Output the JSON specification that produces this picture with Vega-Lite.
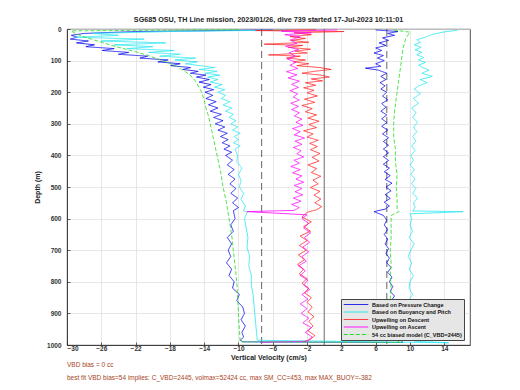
{
  "$schema": "https://vega.github.io/schema/vega-lite/v6.json",
  "autosize": "none",
  "width": 403,
  "height": 316,
  "padding": {"left": 67, "top": 29, "right": 50, "bottom": 45},
  "background": "white",
  "title": {
    "text": "SG685 OSU, TH Line mission, 2023/01/26, dive 739 started 17-Jul-2023 10:11:01",
    "font": "Liberation Sans", "fontSize": 7.2, "fontWeight": "bold", "color": "#222", "offset": 3, "anchor": "middle"
  },
  "config": {
    "view": {"stroke": "#222", "strokeWidth": 0.8},
    "axis": {
      "labelFont": "Liberation Sans", "labelFontWeight": "bold", "labelFontSize": 6.5, "labelColor": "#333",
      "titleFont": "Liberation Sans", "titleFontWeight": "bold", "titleFontSize": 7, "titleColor": "#222",
      "gridColor": "#dddddd", "gridWidth": 0.7, "domainColor": "#222", "domainWidth": 0.8,
      "tickColor": "#222", "tickSize": -3, "tickWidth": 0.7
    }
  },
  "datasets": {
    "vel": [
      {"s":"P","d":3,"w":-6},{"s":"P","d":8,"w":-22},{"s":"P","d":14,"w":-28},{"s":"P","d":20,"w":-29.5},{"s":"P","d":26,"w":-28.8},{"s":"P","d":32,"w":-29.6},{"s":"P","d":38,"w":-27.5},{"s":"P","d":44,"w":-28.9},{"s":"P","d":50,"w":-26.8},{"s":"P","d":56,"w":-27.8},{"s":"P","d":62,"w":-24.5},{"s":"P","d":68,"w":-25.9},{"s":"P","d":74,"w":-22.8},{"s":"P","d":80,"w":-24.0},{"s":"P","d":86,"w":-20.6},{"s":"P","d":92,"w":-21.5},{"s":"P","d":98,"w":-18.2},{"s":"P","d":104,"w":-19.4},{"s":"P","d":110,"w":-16.8},{"s":"P","d":116,"w":-17.9},{"s":"P","d":122,"w":-15.6},{"s":"P","d":128,"w":-16.5},{"s":"P","d":134,"w":-14.7},{"s":"P","d":140,"w":-15.6},{"s":"P","d":146,"w":-13.8},{"s":"P","d":152,"w":-14.9},{"s":"P","d":160,"w":-13.4},{"s":"P","d":168,"w":-14.6},{"s":"P","d":176,"w":-13.2},{"s":"P","d":184,"w":-14.1},{"s":"P","d":192,"w":-12.9},{"s":"P","d":200,"w":-13.9},{"s":"P","d":210,"w":-13.0},{"s":"P","d":220,"w":-13.8},{"s":"P","d":230,"w":-12.6},{"s":"P","d":240,"w":-13.5},{"s":"P","d":250,"w":-12.4},{"s":"P","d":260,"w":-13.3},{"s":"P","d":270,"w":-12.0},{"s":"P","d":280,"w":-12.9},{"s":"P","d":290,"w":-11.8},{"s":"P","d":300,"w":-12.7},{"s":"P","d":310,"w":-11.6},{"s":"P","d":320,"w":-12.4},{"s":"P","d":330,"w":-11.3},{"s":"P","d":340,"w":-12.1},{"s":"P","d":350,"w":-11.2},{"s":"P","d":360,"w":-11.9},{"s":"P","d":370,"w":-11.0},{"s":"P","d":380,"w":-11.7},{"s":"P","d":390,"w":-10.8},{"s":"P","d":400,"w":-11.5},{"s":"P","d":415,"w":-10.7},{"s":"P","d":430,"w":-11.3},{"s":"P","d":445,"w":-10.5},{"s":"P","d":460,"w":-11.2},{"s":"P","d":475,"w":-10.4},{"s":"P","d":490,"w":-11.0},{"s":"P","d":505,"w":-10.3},{"s":"P","d":520,"w":-10.9},{"s":"P","d":535,"w":-10.1},{"s":"P","d":550,"w":-10.7},{"s":"P","d":565,"w":-10.0},{"s":"P","d":575,"w":-10.6},{"s":"P","d":600,"w":-10.4},{"s":"P","d":620,"w":-10.9},{"s":"P","d":640,"w":-10.6},{"s":"P","d":660,"w":-11.3},{"s":"P","d":680,"w":-10.8},{"s":"P","d":700,"w":-11.2},{"s":"P","d":720,"w":-10.9},{"s":"P","d":740,"w":-11.4},{"s":"P","d":760,"w":-10.8},{"s":"P","d":780,"w":-11.1},{"s":"P","d":800,"w":-10.5},{"s":"P","d":820,"w":-10.7},{"s":"P","d":840,"w":-9.9},{"s":"P","d":860,"w":-10.2},{"s":"P","d":880,"w":-9.5},{"s":"P","d":900,"w":-9.3},{"s":"P","d":920,"w":-9.7},{"s":"P","d":940,"w":-9.2},{"s":"P","d":960,"w":-9.6},{"s":"P","d":975,"w":-9.4},{"s":"P","d":985,"w":-9.8},{"s":"P","d":990,"w":-9.5},
      {"s":"P","d":992,"w":9.2},{"s":"P","d":980,"w":8.7},{"s":"P","d":965,"w":8.9},{"s":"P","d":950,"w":8.4},{"s":"P","d":935,"w":8.6},{"s":"P","d":920,"w":8.2},{"s":"P","d":905,"w":8.5},{"s":"P","d":890,"w":8.0},{"s":"P","d":875,"w":8.3},{"s":"P","d":860,"w":7.8},{"s":"P","d":845,"w":8.2},{"s":"P","d":830,"w":7.7},{"s":"P","d":815,"w":8.0},{"s":"P","d":800,"w":7.6},{"s":"P","d":785,"w":7.9},{"s":"P","d":770,"w":7.4},{"s":"P","d":755,"w":7.8},{"s":"P","d":740,"w":7.3},{"s":"P","d":725,"w":7.6},{"s":"P","d":710,"w":7.2},{"s":"P","d":695,"w":7.5},{"s":"P","d":680,"w":7.1},{"s":"P","d":665,"w":7.4},{"s":"P","d":650,"w":7.0},{"s":"P","d":635,"w":7.4},{"s":"P","d":620,"w":7.0},{"s":"P","d":605,"w":7.3},{"s":"P","d":590,"w":6.9},{"s":"P","d":578,"w":5.8},{"s":"P","d":570,"w":7.1},{"s":"P","d":560,"w":7.6},{"s":"P","d":548,"w":7.0},{"s":"P","d":536,"w":7.7},{"s":"P","d":524,"w":7.1},{"s":"P","d":512,"w":7.8},{"s":"P","d":500,"w":7.2},{"s":"P","d":488,"w":7.9},{"s":"P","d":476,"w":7.1},{"s":"P","d":464,"w":7.7},{"s":"P","d":452,"w":7.0},{"s":"P","d":440,"w":7.6},{"s":"P","d":428,"w":6.9},{"s":"P","d":416,"w":7.5},{"s":"P","d":404,"w":6.9},{"s":"P","d":392,"w":7.5},{"s":"P","d":380,"w":6.9},{"s":"P","d":368,"w":7.5},{"s":"P","d":356,"w":6.9},{"s":"P","d":344,"w":7.5},{"s":"P","d":332,"w":6.8},{"s":"P","d":320,"w":7.4},{"s":"P","d":308,"w":6.7},{"s":"P","d":296,"w":7.3},{"s":"P","d":284,"w":6.7},{"s":"P","d":272,"w":7.3},{"s":"P","d":260,"w":6.6},{"s":"P","d":248,"w":7.2},{"s":"P","d":236,"w":6.7},{"s":"P","d":224,"w":7.4},{"s":"P","d":212,"w":6.8},{"s":"P","d":200,"w":7.3},{"s":"P","d":190,"w":6.6},{"s":"P","d":180,"w":7.1},{"s":"P","d":170,"w":6.5},{"s":"P","d":160,"w":7.2},{"s":"P","d":150,"w":6.6},{"s":"P","d":140,"w":7.3},{"s":"P","d":130,"w":6.3},{"s":"P","d":124,"w":4.8},{"s":"P","d":118,"w":6.6},{"s":"P","d":110,"w":6.0},{"s":"P","d":100,"w":7.0},{"s":"P","d":92,"w":6.2},{"s":"P","d":84,"w":6.9},{"s":"P","d":76,"w":5.8},{"s":"P","d":68,"w":6.7},{"s":"P","d":60,"w":6.0},{"s":"P","d":52,"w":7.2},{"s":"P","d":44,"w":6.4},{"s":"P","d":36,"w":7.5},{"s":"P","d":28,"w":6.8},{"s":"P","d":20,"w":8.2},{"s":"P","d":14,"w":7.4},{"s":"P","d":8,"w":8.6},{"s":"P","d":3,"w":6.0},

      {"s":"B","d":3,"w":-4},{"s":"B","d":8,"w":-18},{"s":"B","d":14,"w":-27},{"s":"B","d":20,"w":-24},{"s":"B","d":26,"w":-29},{"s":"B","d":32,"w":-21},{"s":"B","d":38,"w":-26},{"s":"B","d":44,"w":-18.5},{"s":"B","d":50,"w":-24.5},{"s":"B","d":56,"w":-20},{"s":"B","d":62,"w":-23},{"s":"B","d":68,"w":-17.5},{"s":"B","d":74,"w":-20.5},{"s":"B","d":80,"w":-16.8},{"s":"B","d":86,"w":-19.2},{"s":"B","d":92,"w":-15.0},{"s":"B","d":98,"w":-17.4},{"s":"B","d":104,"w":-14.8},{"s":"B","d":110,"w":-16.2},{"s":"B","d":116,"w":-14.5},{"s":"B","d":122,"w":-12.8},{"s":"B","d":128,"w":-14.6},{"s":"B","d":134,"w":-12.5},{"s":"B","d":140,"w":-13.9},{"s":"B","d":146,"w":-12.2},{"s":"B","d":152,"w":-13.6},{"s":"B","d":160,"w":-12.4},{"s":"B","d":168,"w":-13.3},{"s":"B","d":176,"w":-11.9},{"s":"B","d":184,"w":-12.8},{"s":"B","d":192,"w":-11.6},{"s":"B","d":200,"w":-12.4},{"s":"B","d":210,"w":-11.5},{"s":"B","d":220,"w":-12.0},{"s":"B","d":230,"w":-11.0},{"s":"B","d":240,"w":-11.8},{"s":"B","d":250,"w":-10.8},{"s":"B","d":260,"w":-11.5},{"s":"B","d":270,"w":-10.6},{"s":"B","d":280,"w":-11.1},{"s":"B","d":290,"w":-10.3},{"s":"B","d":300,"w":-10.9},{"s":"B","d":310,"w":-10.1},{"s":"B","d":320,"w":-10.7},{"s":"B","d":330,"w":-9.8},{"s":"B","d":340,"w":-10.5},{"s":"B","d":350,"w":-10.0},{"s":"B","d":360,"w":-10.6},{"s":"B","d":370,"w":-9.8},{"s":"B","d":380,"w":-10.4},{"s":"B","d":400,"w":-10.1},{"s":"B","d":420,"w":-10.2},{"s":"B","d":440,"w":-9.6},{"s":"B","d":460,"w":-10.0},{"s":"B","d":480,"w":-9.7},{"s":"B","d":500,"w":-9.9},{"s":"B","d":520,"w":-9.4},{"s":"B","d":540,"w":-9.7},{"s":"B","d":560,"w":-9.2},{"s":"B","d":575,"w":-9.4},{"s":"B","d":580,"w":-9.0},{"s":"B","d":600,"w":-9.3},{"s":"B","d":630,"w":-9.1},{"s":"B","d":660,"w":-8.9},{"s":"B","d":690,"w":-9.0},{"s":"B","d":720,"w":-8.7},{"s":"B","d":750,"w":-8.8},{"s":"B","d":780,"w":-8.5},{"s":"B","d":810,"w":-8.5},{"s":"B","d":840,"w":-8.3},{"s":"B","d":870,"w":-8.2},{"s":"B","d":900,"w":-8.1},{"s":"B","d":930,"w":-8.0},{"s":"B","d":960,"w":-7.9},{"s":"B","d":985,"w":-7.8},
      {"s":"B","d":993,"w":14.5},{"s":"B","d":988,"w":10.5},{"s":"B","d":975,"w":10.1},{"s":"B","d":960,"w":9.9},{"s":"B","d":945,"w":10.2},{"s":"B","d":930,"w":9.8},{"s":"B","d":915,"w":10.1},{"s":"B","d":900,"w":9.9},{"s":"B","d":880,"w":10.2},{"s":"B","d":860,"w":9.8},{"s":"B","d":840,"w":10.3},{"s":"B","d":820,"w":9.9},{"s":"B","d":800,"w":10.0},{"s":"B","d":780,"w":10.4},{"s":"B","d":760,"w":9.9},{"s":"B","d":740,"w":10.2},{"s":"B","d":720,"w":9.8},{"s":"B","d":700,"w":10.1},{"s":"B","d":680,"w":10.5},{"s":"B","d":660,"w":9.9},{"s":"B","d":640,"w":10.3},{"s":"B","d":620,"w":10.0},{"s":"B","d":600,"w":10.2},{"s":"B","d":585,"w":10.0},{"s":"B","d":578,"w":16.2},{"s":"B","d":576,"w":10.3},{"s":"B","d":565,"w":10.6},{"s":"B","d":550,"w":10.4},{"s":"B","d":535,"w":10.9},{"s":"B","d":520,"w":10.3},{"s":"B","d":505,"w":10.7},{"s":"B","d":490,"w":10.2},{"s":"B","d":475,"w":10.6},{"s":"B","d":460,"w":10.1},{"s":"B","d":445,"w":10.5},{"s":"B","d":430,"w":10.0},{"s":"B","d":415,"w":10.4},{"s":"B","d":400,"w":10.1},{"s":"B","d":385,"w":10.6},{"s":"B","d":370,"w":10.2},{"s":"B","d":355,"w":10.7},{"s":"B","d":340,"w":10.3},{"s":"B","d":325,"w":10.8},{"s":"B","d":310,"w":10.4},{"s":"B","d":295,"w":10.9},{"s":"B","d":280,"w":10.3},{"s":"B","d":265,"w":10.7},{"s":"B","d":250,"w":10.2},{"s":"B","d":235,"w":11.0},{"s":"B","d":220,"w":10.4},{"s":"B","d":205,"w":11.2},{"s":"B","d":190,"w":10.5},{"s":"B","d":180,"w":11.0},{"s":"B","d":170,"w":12.0},{"s":"B","d":160,"w":11.2},{"s":"B","d":150,"w":12.6},{"s":"B","d":140,"w":11.4},{"s":"B","d":130,"w":12.2},{"s":"B","d":122,"w":11.5},{"s":"B","d":114,"w":11.0},{"s":"B","d":106,"w":11.8},{"s":"B","d":98,"w":11.0},{"s":"B","d":90,"w":11.6},{"s":"B","d":82,"w":10.8},{"s":"B","d":74,"w":11.4},{"s":"B","d":66,"w":10.6},{"s":"B","d":58,"w":11.3},{"s":"B","d":50,"w":10.5},{"s":"B","d":42,"w":11.2},{"s":"B","d":34,"w":10.8},{"s":"B","d":26,"w":11.8},{"s":"B","d":18,"w":12.5},{"s":"B","d":10,"w":13.8},{"s":"B","d":4,"w":15.5},

      {"s":"D","d":2,"w":-1.0},{"s":"D","d":5,"w":-8.0},{"s":"D","d":8,"w":2.3},{"s":"D","d":12,"w":-3.5},{"s":"D","d":18,"w":-1.5},{"s":"D","d":24,"w":-4.0},{"s":"D","d":30,"w":-2.2},{"s":"D","d":36,"w":-3.8},{"s":"D","d":42,"w":-1.8},{"s":"D","d":48,"w":-7.0},{"s":"D","d":52,"w":-2.5},{"s":"D","d":58,"w":-4.2},{"s":"D","d":64,"w":-1.6},{"s":"D","d":70,"w":-3.4},{"s":"D","d":76,"w":-2.0},{"s":"D","d":82,"w":-6.5},{"s":"D","d":86,"w":-2.8},{"s":"D","d":92,"w":-4.4},{"s":"D","d":98,"w":-2.2},{"s":"D","d":104,"w":-3.6},{"s":"D","d":110,"w":-1.8},{"s":"D","d":116,"w":-3.2},{"s":"D","d":122,"w":-0.5},{"s":"D","d":128,"w":0.8},{"s":"D","d":134,"w":-1.2},{"s":"D","d":140,"w":-2.6},{"s":"D","d":146,"w":-0.4},{"s":"D","d":152,"w":0.6},{"s":"D","d":158,"w":-1.5},{"s":"D","d":164,"w":-0.2},{"s":"D","d":170,"w":-2.2},{"s":"D","d":178,"w":-1.0},{"s":"D","d":186,"w":-2.4},{"s":"D","d":194,"w":-1.2},{"s":"D","d":202,"w":-2.0},{"s":"D","d":212,"w":-0.8},{"s":"D","d":222,"w":-2.3},{"s":"D","d":232,"w":-1.1},{"s":"D","d":242,"w":-2.6},{"s":"D","d":252,"w":-1.4},{"s":"D","d":262,"w":-2.2},{"s":"D","d":272,"w":-0.9},{"s":"D","d":282,"w":-1.9},{"s":"D","d":292,"w":-0.6},{"s":"D","d":302,"w":-1.8},{"s":"D","d":312,"w":-0.9},{"s":"D","d":322,"w":-2.4},{"s":"D","d":332,"w":-1.3},{"s":"D","d":342,"w":-2.0},{"s":"D","d":352,"w":-0.7},{"s":"D","d":362,"w":-1.7},{"s":"D","d":372,"w":-0.8},{"s":"D","d":382,"w":-1.6},{"s":"D","d":394,"w":-0.5},{"s":"D","d":406,"w":-1.4},{"s":"D","d":418,"w":-0.6},{"s":"D","d":430,"w":-1.9},{"s":"D","d":442,"w":-0.9},{"s":"D","d":454,"w":-1.5},{"s":"D","d":466,"w":-0.4},{"s":"D","d":478,"w":-1.3},{"s":"D","d":490,"w":-0.7},{"s":"D","d":502,"w":-1.6},{"s":"D","d":514,"w":-0.5},{"s":"D","d":526,"w":-1.2},{"s":"D","d":538,"w":-0.4},{"s":"D","d":550,"w":-1.1},{"s":"D","d":562,"w":-0.3},{"s":"D","d":572,"w":-0.9},{"s":"D","d":580,"w":-2.0},{"s":"D","d":595,"w":-2.6},{"s":"D","d":610,"w":-1.5},{"s":"D","d":625,"w":-2.4},{"s":"D","d":640,"w":-1.6},{"s":"D","d":655,"w":-2.8},{"s":"D","d":670,"w":-2.0},{"s":"D","d":685,"w":-2.9},{"s":"D","d":700,"w":-2.1},{"s":"D","d":715,"w":-3.0},{"s":"D","d":730,"w":-2.3},{"s":"D","d":745,"w":-3.1},{"s":"D","d":760,"w":-2.4},{"s":"D","d":775,"w":-2.9},{"s":"D","d":790,"w":-2.0},{"s":"D","d":805,"w":-2.6},{"s":"D","d":820,"w":-1.8},{"s":"D","d":835,"w":-2.3},{"s":"D","d":850,"w":-1.5},{"s":"D","d":865,"w":-2.0},{"s":"D","d":880,"w":-1.4},{"s":"D","d":895,"w":-1.9},{"s":"D","d":910,"w":-1.2},{"s":"D","d":925,"w":-1.8},{"s":"D","d":940,"w":-1.3},{"s":"D","d":955,"w":-1.9},{"s":"D","d":970,"w":-1.1},{"s":"D","d":982,"w":-1.6},{"s":"D","d":990,"w":-2.4},

      {"s":"A","d":992,"w":-7.5},{"s":"A","d":988,"w":-2.0},{"s":"A","d":975,"w":-1.4},{"s":"A","d":960,"w":-2.2},{"s":"A","d":945,"w":-1.5},{"s":"A","d":930,"w":-2.5},{"s":"A","d":915,"w":-1.8},{"s":"A","d":900,"w":-2.7},{"s":"A","d":885,"w":-2.0},{"s":"A","d":870,"w":-2.8},{"s":"A","d":855,"w":-1.9},{"s":"A","d":840,"w":-2.6},{"s":"A","d":825,"w":-1.7},{"s":"A","d":810,"w":-2.4},{"s":"A","d":795,"w":-1.9},{"s":"A","d":780,"w":-2.8},{"s":"A","d":765,"w":-2.2},{"s":"A","d":750,"w":-3.0},{"s":"A","d":735,"w":-2.1},{"s":"A","d":720,"w":-2.6},{"s":"A","d":705,"w":-1.8},{"s":"A","d":690,"w":-2.5},{"s":"A","d":675,"w":-1.7},{"s":"A","d":660,"w":-2.3},{"s":"A","d":645,"w":-1.6},{"s":"A","d":630,"w":-2.4},{"s":"A","d":615,"w":-1.8},{"s":"A","d":600,"w":-2.6},{"s":"A","d":588,"w":-2.0},{"s":"A","d":578,"w":-9.0},{"s":"A","d":574,"w":-3.5},{"s":"A","d":565,"w":-2.9},{"s":"A","d":555,"w":-3.8},{"s":"A","d":545,"w":-2.7},{"s":"A","d":535,"w":-3.6},{"s":"A","d":525,"w":-2.5},{"s":"A","d":515,"w":-3.4},{"s":"A","d":505,"w":-2.6},{"s":"A","d":495,"w":-3.5},{"s":"A","d":485,"w":-2.4},{"s":"A","d":475,"w":-3.3},{"s":"A","d":465,"w":-2.6},{"s":"A","d":455,"w":-3.7},{"s":"A","d":445,"w":-2.8},{"s":"A","d":435,"w":-3.9},{"s":"A","d":425,"w":-2.9},{"s":"A","d":415,"w":-3.5},{"s":"A","d":405,"w":-2.4},{"s":"A","d":395,"w":-3.2},{"s":"A","d":385,"w":-2.7},{"s":"A","d":375,"w":-3.6},{"s":"A","d":365,"w":-2.6},{"s":"A","d":355,"w":-3.4},{"s":"A","d":345,"w":-2.3},{"s":"A","d":335,"w":-3.5},{"s":"A","d":325,"w":-2.8},{"s":"A","d":315,"w":-3.7},{"s":"A","d":305,"w":-2.5},{"s":"A","d":295,"w":-3.3},{"s":"A","d":285,"w":-2.6},{"s":"A","d":275,"w":-3.5},{"s":"A","d":265,"w":-2.9},{"s":"A","d":255,"w":-3.8},{"s":"A","d":245,"w":-3.0},{"s":"A","d":235,"w":-3.9},{"s":"A","d":225,"w":-2.9},{"s":"A","d":215,"w":-3.6},{"s":"A","d":205,"w":-3.1},{"s":"A","d":195,"w":-4.0},{"s":"A","d":185,"w":-3.0},{"s":"A","d":175,"w":-3.8},{"s":"A","d":165,"w":-2.9},{"s":"A","d":155,"w":-4.2},{"s":"A","d":145,"w":-3.2},{"s":"A","d":135,"w":-4.4},{"s":"A","d":125,"w":-3.1},{"s":"A","d":115,"w":-4.0},{"s":"A","d":105,"w":-3.3},{"s":"A","d":95,"w":-4.3},{"s":"A","d":85,"w":-3.4},{"s":"A","d":75,"w":-4.1},{"s":"A","d":65,"w":-3.0},{"s":"A","d":55,"w":-4.5},{"s":"A","d":45,"w":-3.2},{"s":"A","d":35,"w":-4.0},{"s":"A","d":25,"w":-2.8},{"s":"A","d":18,"w":-4.6},{"s":"A","d":12,"w":-1.5},{"s":"A","d":7,"w":-5.0},{"s":"A","d":3,"w":1.5},

      {"s":"M","d":2,"w":-10},{"s":"M","d":6,"w":-29.5},{"s":"M","d":15,"w":-29.0},{"s":"M","d":25,"w":-28.0},{"s":"M","d":35,"w":-26.8},{"s":"M","d":45,"w":-25.6},{"s":"M","d":55,"w":-24.4},{"s":"M","d":65,"w":-23.0},{"s":"M","d":75,"w":-21.6},{"s":"M","d":85,"w":-20.4},{"s":"M","d":95,"w":-19.4},{"s":"M","d":105,"w":-18.4},{"s":"M","d":115,"w":-17.5},{"s":"M","d":125,"w":-16.8},{"s":"M","d":135,"w":-16.2},{"s":"M","d":145,"w":-15.7},{"s":"M","d":155,"w":-15.3},{"s":"M","d":170,"w":-14.9},{"s":"M","d":185,"w":-14.6},{"s":"M","d":200,"w":-14.3},{"s":"M","d":225,"w":-14.0},{"s":"M","d":250,"w":-13.8},{"s":"M","d":275,"w":-13.5},{"s":"M","d":300,"w":-13.3},{"s":"M","d":325,"w":-13.1},{"s":"M","d":350,"w":-12.9},{"s":"M","d":375,"w":-12.7},{"s":"M","d":400,"w":-12.5},{"s":"M","d":450,"w":-12.1},{"s":"M","d":500,"w":-11.8},{"s":"M","d":550,"w":-11.4},{"s":"M","d":600,"w":-11.1},{"s":"M","d":650,"w":-10.8},{"s":"M","d":700,"w":-10.6},{"s":"M","d":750,"w":-10.4},{"s":"M","d":800,"w":-10.2},{"s":"M","d":850,"w":-10.1},{"s":"M","d":900,"w":-10.0},{"s":"M","d":950,"w":-9.9},{"s":"M","d":990,"w":-9.8},
      {"s":"M","d":992,"w":9.0},{"s":"M","d":980,"w":7.8},{"s":"M","d":940,"w":7.7},{"s":"M","d":900,"w":7.8},{"s":"M","d":860,"w":7.7},{"s":"M","d":820,"w":7.8},{"s":"M","d":780,"w":7.7},{"s":"M","d":740,"w":7.8},{"s":"M","d":700,"w":7.7},{"s":"M","d":660,"w":7.8},{"s":"M","d":620,"w":7.8},{"s":"M","d":590,"w":7.8},{"s":"M","d":578,"w":8.7},{"s":"M","d":570,"w":8.5},{"s":"M","d":540,"w":8.5},{"s":"M","d":500,"w":8.4},{"s":"M","d":460,"w":8.5},{"s":"M","d":420,"w":8.3},{"s":"M","d":380,"w":8.3},{"s":"M","d":340,"w":8.1},{"s":"M","d":300,"w":8.1},{"s":"M","d":260,"w":8.2},{"s":"M","d":220,"w":8.4},{"s":"M","d":180,"w":8.6},{"s":"M","d":140,"w":8.8},{"s":"M","d":100,"w":9.0},{"s":"M","d":60,"w":9.2},{"s":"M","d":30,"w":9.5},{"s":"M","d":10,"w":10.0},{"s":"M","d":3,"w":8.0}
    ]
  },
  "encoding": {
    "x": {"field": "w", "type": "quantitative",
      "scale": {"domain": [-30, 17], "nice": false, "zero": false},
      "axis": {"values": [-30,-26,-22,-18,-14,-10,-6,-2,2,6,10,14], "format": "d", "title": "Vertical Velocity (cm/s)", "titlePadding": 2, "labelPadding": 3}},
    "y": {"field": "d", "type": "quantitative",
      "scale": {"domain": [0, 1000], "reverse": true, "nice": false, "zero": false},
      "axis": {"values": [0,100,200,300,400,500,600,700,800,900,1000], "format": "d", "title": "Depth (m)", "titlePadding": 6, "labelPadding": 9}}
  },
  "layer": [
    {
      "data": {"values": [{"w": -7.3}, {"w": 7.3}]},
      "mark": {"type": "rule", "color": "#555", "strokeWidth": 0.9, "strokeDash": [7, 4]},
      "encoding": {"x": {"field": "w", "type": "quantitative"}, "y": null}
    },
    {
      "data": {"values": [{"w": 0}]},
      "mark": {"type": "rule", "color": "#444", "strokeWidth": 0.8},
      "encoding": {"x": {"field": "w", "type": "quantitative"}, "y": null}
    },
    {
      "data": {"name": "vel"},
      "mark": {"type": "line", "strokeWidth": 0.8, "clip": true},
      "encoding": {
        "order": {"value": null},
        "color": {"field": "s", "type": "nominal",
          "scale": {"domain": ["P","B","D","A","M"], "range": ["#0000ee","#1ee6f0","#ff1a1a","#ff00ff","#22dd22"]},
          "legend": {
            "title": null, "orient": "none", "legendX": 274, "legendY": 270,
            "symbolType": "stroke", "symbolSize": 600, "symbolStrokeWidth": 1,
            "labelFont": "Liberation Sans", "labelFontSize": 5.5, "labelFontWeight": "bold", "labelColor": "#111",
            "fillColor": "#e6e6e6", "strokeColor": "#444", "padding": 2, "rowPadding": 0.5, "clipHeight": 7, "labelOffset": 3,
            "labelExpr": "datum.label == 'P' ? 'Based on Pressure Change' : datum.label == 'B' ? 'Based on Buoyancy and Pitch' : datum.label == 'D' ? 'Upwelling on Descent' : datum.label == 'A' ? 'Upwelling on Ascent' : '54 cc biased model (C_VBD=2445)'"
          }},
        "strokeDash": {"field": "s", "type": "nominal",
          "scale": {"domain": ["P","B","D","A","M"], "range": [[1,0],[1,0],[1,0],[1,0],[4,2]]}}
      }
    },
    {
      "data": {"values": [
        {"w": -30, "d": 1063, "t": "VBD bias = 0 cc"},
        {"w": -30, "d": 1104, "t": "best fit VBD bias=54 implies: C_VBD=2445, volmax=52424 cc, max SM_CC=453, max MAX_BUOY=-382"}
      ]},
      "mark": {"type": "text", "align": "left", "baseline": "middle", "font": "Liberation Sans", "fontSize": 6.5, "color": "#a8441c"},
      "encoding": {"text": {"field": "t"}}
    }
  ]
}
